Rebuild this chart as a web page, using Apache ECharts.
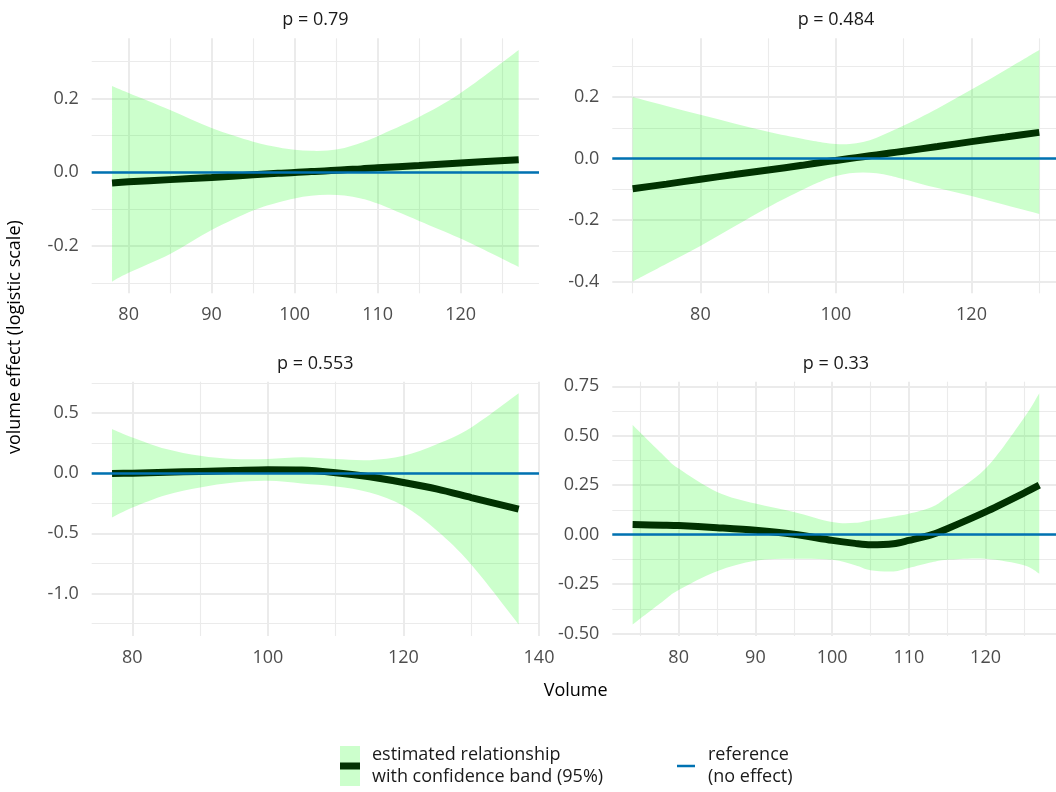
<!DOCTYPE html>
<html>
<head>
<meta charset="utf-8">
<script src="https://cdn.jsdelivr.net/npm/echarts@6/dist/echarts.min.js"></script>
<style>
html,body{margin:0;padding:0;background:#ffffff;}
#chart{width:1056px;height:792px;}
</style>
</head>
<body>
<div id="chart"></div>
<script>
// ---------------- data ----------------
const panelTitles = ['p = 0.79', 'p = 0.484', 'p = 0.553', 'p = 0.33'];
const bandName = 'estimated relationship\nwith confidence band (95%)';
const refName = 'reference\n(no effect)';
const xTitle = 'Volume';
const yTitle = 'volume effect (logistic scale)';

// panel 1 (p = 0.79)
const p1X     = [78, 80, 85, 90, 95, 98, 100, 102, 104, 106, 108, 110, 115, 120, 127];
const p1Mean  = [-0.029, -0.026, -0.020, -0.014, -0.007, -0.003, -0.001, 0.002, 0.004, 0.007, 0.009, 0.012, 0.018, 0.025, 0.034];
const p1Upper = [0.234, 0.215, 0.169, 0.120, 0.083, 0.068, 0.061, 0.058, 0.059, 0.066, 0.080, 0.098, 0.150, 0.215, 0.332];
const p1Lower = [-0.297, -0.273, -0.222, -0.157, -0.104, -0.082, -0.071, -0.064, -0.061, -0.063, -0.071, -0.085, -0.132, -0.180, -0.257];
const p1XMajor = [80, 90, 100, 110, 120];
const p1XMinor = [75, 85, 95, 105, 115, 125];
const p1YMajor = [-0.2, 0, 0.2];
const p1YMinor = [-0.3, -0.1, 0.1, 0.3];

// panel 2 (p = 0.484)
const p2X     = [70, 75, 80, 85, 90, 95, 98, 100, 102, 104, 106, 108, 110, 115, 120, 125, 130];
const p2Mean  = [-0.098, -0.083, -0.067, -0.052, -0.037, -0.022, -0.012, -0.006, 0.000, 0.006, 0.012, 0.018, 0.024, 0.039, 0.055, 0.070, 0.085];
const p2Upper = [0.200, 0.171, 0.142, 0.114, 0.087, 0.064, 0.052, 0.047, 0.047, 0.054, 0.068, 0.087, 0.107, 0.163, 0.224, 0.288, 0.353];
const p2Lower = [-0.400, -0.342, -0.284, -0.221, -0.158, -0.102, -0.072, -0.057, -0.048, -0.045, -0.048, -0.056, -0.067, -0.096, -0.122, -0.151, -0.180];
const p2XMajor = [80, 100, 120];
const p2XMinor = [70, 90, 110, 130];
const p2YMajor = [-0.4, -0.2, 0, 0.2];
const p2YMinor = [-0.3, -0.1, 0.1, 0.3];

// panel 3 (p = 0.553)
const p3X     = [77, 80, 85, 90, 95, 100, 105, 110, 115, 120, 125, 130, 137];
const p3Mean  = [-0.003, 0.000, 0.007, 0.014, 0.021, 0.028, 0.025, 0.003, -0.030, -0.078, -0.133, -0.203, -0.300];
const p3Upper = [0.367, 0.297, 0.200, 0.144, 0.117, 0.117, 0.131, 0.117, 0.108, 0.144, 0.242, 0.380, 0.664];
const p3Lower = [-0.369, -0.286, -0.181, -0.119, -0.078, -0.064, -0.086, -0.111, -0.161, -0.272, -0.481, -0.760, -1.258];
const p3XMajor = [80, 100, 120, 140];
const p3XMinor = [90, 110, 130];
const p3YMajor = [-1.0, -0.5, 0, 0.5];
const p3YMinor = [-1.25, -0.75, -0.25, 0.25, 0.75];

// panel 4 (p = 0.33)
const p4X     = [74, 78, 80, 85, 90, 95, 100, 103, 105, 108, 110, 113, 115, 120, 125, 127];
const p4Mean  = [0.051, 0.048, 0.046, 0.035, 0.022, 0.002, -0.029, -0.044, -0.051, -0.046, -0.029, 0.000, 0.030, 0.115, 0.210, 0.250];
const p4Upper = [0.554, 0.402, 0.334, 0.216, 0.157, 0.115, 0.064, 0.060, 0.073, 0.092, 0.106, 0.140, 0.191, 0.334, 0.590, 0.715];
const p4Lower = [-0.454, -0.335, -0.280, -0.185, -0.132, -0.122, -0.127, -0.155, -0.180, -0.186, -0.169, -0.140, -0.127, -0.122, -0.155, -0.198];
const p4XMajor = [80, 90, 100, 110, 120];
const p4XMinor = [75, 85, 95, 105, 115, 125];
const p4YMajor = [-0.5, -0.25, 0, 0.25, 0.5, 0.75];
const p4YMinor = [-0.375, -0.125, 0.125, 0.375, 0.625];

// ---------------- styling / layout ----------------
const FONT = 'Open Sans';
const FS = 18;
const colLeft = [91.7, 612.3];
const rowTop = [38.3, 381.7];
const panelW = 447.3;
const rowH = [255, 254.3];
const gridColor = '#EBEBEB';
const bandFill = 'rgba(0,255,0,0.2)';
const meanColor = '#013201';
const refColor = '#0072B2';

const panels = [
  {x: p1X, mean: p1Mean, upper: p1Upper, lower: p1Lower, xMaj: p1XMajor, xMin: p1XMinor, yMaj: p1YMajor, yMin: p1YMinor, dig: 1},
  {x: p2X, mean: p2Mean, upper: p2Upper, lower: p2Lower, xMaj: p2XMajor, xMin: p2XMinor, yMaj: p2YMajor, yMin: p2YMinor, dig: 1},
  {x: p3X, mean: p3Mean, upper: p3Upper, lower: p3Lower, xMaj: p3XMajor, xMin: p3XMinor, yMaj: p3YMajor, yMin: p3YMinor, dig: 1},
  {x: p4X, mean: p4Mean, upper: p4Upper, lower: p4Lower, xMaj: p4XMajor, xMin: p4XMinor, yMaj: p4YMajor, yMin: p4YMinor, dig: 2}
];

// ggplot-style 5% expansion of the data range
function expand(mn, mx) {
  const d = (mx - mn) * 0.05;
  return [Math.round((mn - d) * 1e6) / 1e6, Math.round((mx + d) * 1e6) / 1e6];
}

// smooth (Catmull-Rom style) path segments through pixel points
function curveThrough(pts) {
  let d = '';
  for (let k = 0; k < pts.length - 1; k++) {
    const p0 = pts[Math.max(k - 1, 0)], p1 = pts[k], p2 = pts[k + 1], p3 = pts[Math.min(k + 2, pts.length - 1)];
    const c1x = p1[0] + (p2[0] - p0[0]) / 6, c1y = p1[1] + (p2[1] - p0[1]) / 6;
    const c2x = p2[0] - (p3[0] - p1[0]) / 6, c2y = p2[1] - (p3[1] - p1[1]) / 6;
    d += ' C' + c1x + ',' + c1y + ' ' + c2x + ',' + c2y + ' ' + p2[0] + ',' + p2[1];
  }
  return d;
}

function bandRenderItem(params, api) {
  if (params.dataIndexInside !== 0) return null;
  const n = params.dataInsideLength;
  const up = [], lo = [];
  for (let k = 0; k < n; k++) {
    up.push(api.coord([api.value(0, k), api.value(2, k)]));
    lo.push(api.coord([api.value(0, k), api.value(1, k)]));
  }
  lo.reverse();
  const d = 'M' + up[0][0] + ',' + up[0][1] + curveThrough(up) +
            ' L' + lo[0][0] + ',' + lo[0][1] + curveThrough(lo) + ' Z';
  return {type: 'path', shape: {pathData: d}, style: {fill: bandFill, stroke: null}};
}

const grids = [], xAxes = [], yAxes = [], series = [];
panels.forEach((p, i) => {
  const xr = expand(Math.min(...p.x), Math.max(...p.x));
  const yr = expand(Math.min(...p.lower, ...p.mean), Math.max(...p.upper, ...p.mean));
  grids.push({left: colLeft[i % 2], top: rowTop[i >> 1], width: panelW, height: rowH[i >> 1],
              containLabel: false, outerBoundsMode: 'none', show: false});
  const labelStyle = {color: '#4D4D4D', fontSize: FS, fontFamily: FONT};
  // major x axis
  xAxes.push({type: 'value', gridIndex: i, min: xr[0], max: xr[1], position: 'bottom',
    axisLine: {show: false, onZero: false}, axisTick: {show: false, customValues: p.xMaj},
    axisLabel: Object.assign({customValues: p.xMaj, margin: 13, formatter: v => String(Math.round(v))}, labelStyle),
    splitLine: {show: true, lineStyle: {color: gridColor, width: 2}}});
  // minor x axis (also carries the strip title)
  xAxes.push({type: 'value', gridIndex: i, min: xr[0], max: xr[1], position: 'top',
    name: panelTitles[i], nameLocation: 'middle', nameGap: 9,
    nameTextStyle: {color: '#1A1A1A', fontSize: FS, fontFamily: FONT},
    axisLine: {show: false, onZero: false}, axisTick: {show: false, customValues: p.xMin},
    axisLabel: {show: false},
    splitLine: {show: true, lineStyle: {color: gridColor, width: 1.1}}});
  // major y axis
  yAxes.push({type: 'value', gridIndex: i, min: yr[0], max: yr[1], position: 'left',
    axisLine: {show: false, onZero: false}, axisTick: {show: false, customValues: p.yMaj},
    axisLabel: Object.assign({customValues: p.yMaj, margin: 13, formatter: v => v.toFixed(p.dig)}, labelStyle),
    splitLine: {show: true, lineStyle: {color: gridColor, width: 2}}});
  // minor y axis
  yAxes.push({type: 'value', gridIndex: i, min: yr[0], max: yr[1], position: 'right',
    axisLine: {show: false, onZero: false}, axisTick: {show: false, customValues: p.yMin},
    axisLabel: {show: false},
    splitLine: {show: true, lineStyle: {color: gridColor, width: 1.1}}});

  const xi = 2 * i, yi = 2 * i;
  series.push({type: 'custom', name: bandName, xAxisIndex: xi, yAxisIndex: yi, z: 2, silent: true,
    data: p.x.map((v, k) => [v, p.lower[k], p.upper[k]]),
    encode: {x: 0, y: [1, 2]}, clip: true, animation: false, renderItem: bandRenderItem});
  series.push({type: 'line', name: bandName, xAxisIndex: xi, yAxisIndex: yi,
    data: p.x.map((v, k) => [v, p.mean[k]]), symbol: 'none', smooth: 0.3,
    lineStyle: {color: meanColor, width: 7, cap: 'butt'}, itemStyle: {color: meanColor},
    silent: true, z: 3, emphasis: {disabled: true}, animation: false});
  series.push({type: 'line', name: refName, xAxisIndex: xi, yAxisIndex: yi, data: [],
    itemStyle: {color: refColor}, silent: true, z: 4, animation: false,
    markLine: {silent: true, symbol: ['none', 'none'], label: {show: false}, animation: false,
      lineStyle: {color: refColor, width: 2.5, type: 'solid'}, emphasis: {disabled: true},
      data: [{yAxis: 0}]}});
});

// frame grid carrying the shared axis titles
grids.push({left: colLeft[0], top: rowTop[0], width: colLeft[1] + panelW - colLeft[0],
            height: rowTop[1] + rowH[1] - rowTop[0], containLabel: false, outerBoundsMode: 'none', show: false});
const titleStyle = {color: '#000000', fontSize: FS, fontFamily: FONT};
xAxes.push({type: 'value', gridIndex: 4, min: 0, max: 1, position: 'bottom',
  name: xTitle, nameLocation: 'middle', nameGap: 46, nameTextStyle: titleStyle,
  axisLine: {show: false, onZero: false}, axisTick: {show: false}, axisLabel: {show: false}, splitLine: {show: false}});
yAxes.push({type: 'value', gridIndex: 4, min: 0, max: 1, position: 'left',
  name: yTitle, nameLocation: 'middle', nameGap: 68, nameTextStyle: titleStyle,
  axisLine: {show: false, onZero: false}, axisTick: {show: false}, axisLabel: {show: false}, splitLine: {show: false}});

const legendText = {color: '#1A1A1A', fontSize: FS, fontFamily: FONT, lineHeight: 22};
const option = {
  backgroundColor: '#ffffff',
  animation: false,
  textStyle: {fontFamily: FONT},
  grid: grids,
  xAxis: xAxes,
  yAxis: yAxes,
  legend: [
    {left: 340, top: 744, padding: 0, itemWidth: 20, itemHeight: 40, selectedMode: false,
     data: [{name: bandName, icon: 'rect', itemStyle: {color: '#CCFFCC', borderWidth: 0}}],
     textStyle: Object.assign({padding: [0, 0, 0, 7]}, legendText)},
    {left: 340, top: 762.5, padding: 0, itemWidth: 20, itemHeight: 7, selectedMode: false,
     data: [{name: bandName, icon: 'rect', itemStyle: {color: meanColor, borderWidth: 0}}],
     formatter: () => '', textStyle: {fontSize: 1, lineHeight: 1}},
    {left: 677, top: 744, padding: 0, itemWidth: 18, itemHeight: 2.5, selectedMode: false,
     data: [{name: refName, icon: 'rect', itemStyle: {color: refColor, borderWidth: 0}}],
     textStyle: Object.assign({padding: [0, 0, 0, 8]}, legendText)}
  ],
  series: series
};

const chart = echarts.init(document.getElementById('chart'), null, {renderer: 'canvas'});
chart.setOption(option);
</script>
</body>
</html>
